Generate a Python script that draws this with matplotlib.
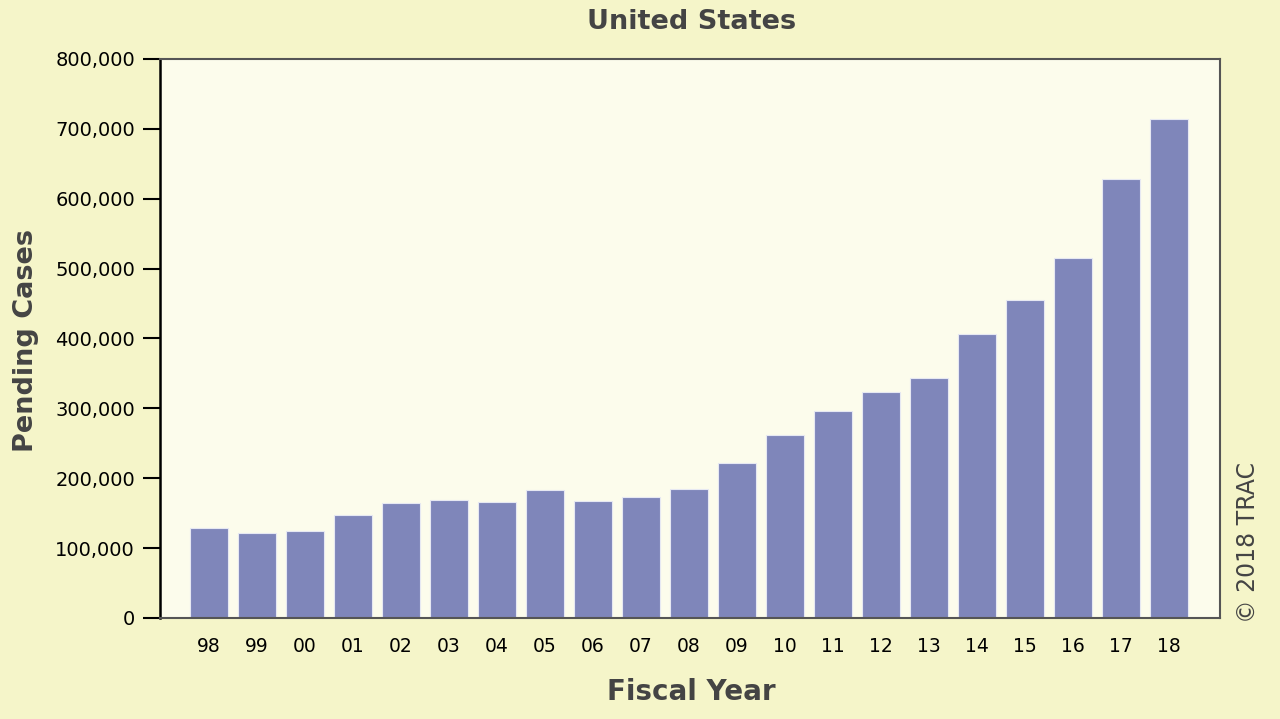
import matplotlib

matplotlib.use('Agg')
import matplotlib.pyplot as plt
from matplotlib.ticker import FuncFormatter

years = ['98', '99', '00', '01', '02', '03', '04', '05', '06', '07', '08',
         '09', '10', '11', '12', '13', '14', '15', '16', '17', '18']
pending = [129000, 122000, 124500, 147500, 164500, 169000, 166000, 183000,
           167500, 173000, 184500, 222000, 262000, 296000, 323000, 343500,
           406000, 455000, 515000, 628000, 714000]
y_ticks = [0, 100000, 200000, 300000, 400000, 500000, 600000, 700000, 800000]

fig = plt.figure(figsize=(12.8, 7.19), dpi=100, facecolor='#f5f5c9')
ax = fig.add_axes([0.125, 0.1405, 0.828, 0.7775])
ax.set_facecolor('#fcfcec')

xs = list(range(len(years)))
ax.bar(xs, pending, width=0.79, color='#7f86ba', edgecolor='#e6e8f2',
       linewidth=0.8, zorder=2)

ax.set_xlim(-1.02, len(years) - 1 + 1.06)
ax.set_ylim(0, 800000)
ax.set_yticks(y_ticks)
ax.yaxis.set_major_formatter(FuncFormatter(lambda v, p: f'{int(v):,}'))
ax.set_xticks(xs)
ax.set_xticklabels(years)
ax.tick_params(axis='x', length=0, pad=14, labelsize=13.5, colors='black')
ax.tick_params(axis='y', length=12, width=1.5, pad=6, labelsize=14,
               colors='black')

ax.spines['left'].set_color('black')
ax.spines['left'].set_linewidth(1.8)
for side in ('top', 'right', 'bottom'):
    ax.spines[side].set_color('#555555')
    ax.spines[side].set_linewidth(1.5)

fig.text(0.54, 0.969, 'United States', ha='center', va='center',
         fontsize=19.5, fontweight='bold', color='#444444')
fig.text(0.02, 0.527, 'Pending Cases', ha='center', va='center',
         rotation=90, fontsize=19.5, fontweight='bold', color='#444444')
fig.text(0.54, 0.037, 'Fiscal Year', ha='center', va='center',
         fontsize=20, fontweight='bold', color='#444444')
fig.text(0.975, 0.245, '\u00a9 2018 TRAC', ha='center', va='center',
         rotation=90, fontsize=17, color='#444444')

fig.savefig('out.png', dpi=100, facecolor=fig.get_facecolor())
plt.close(fig)
